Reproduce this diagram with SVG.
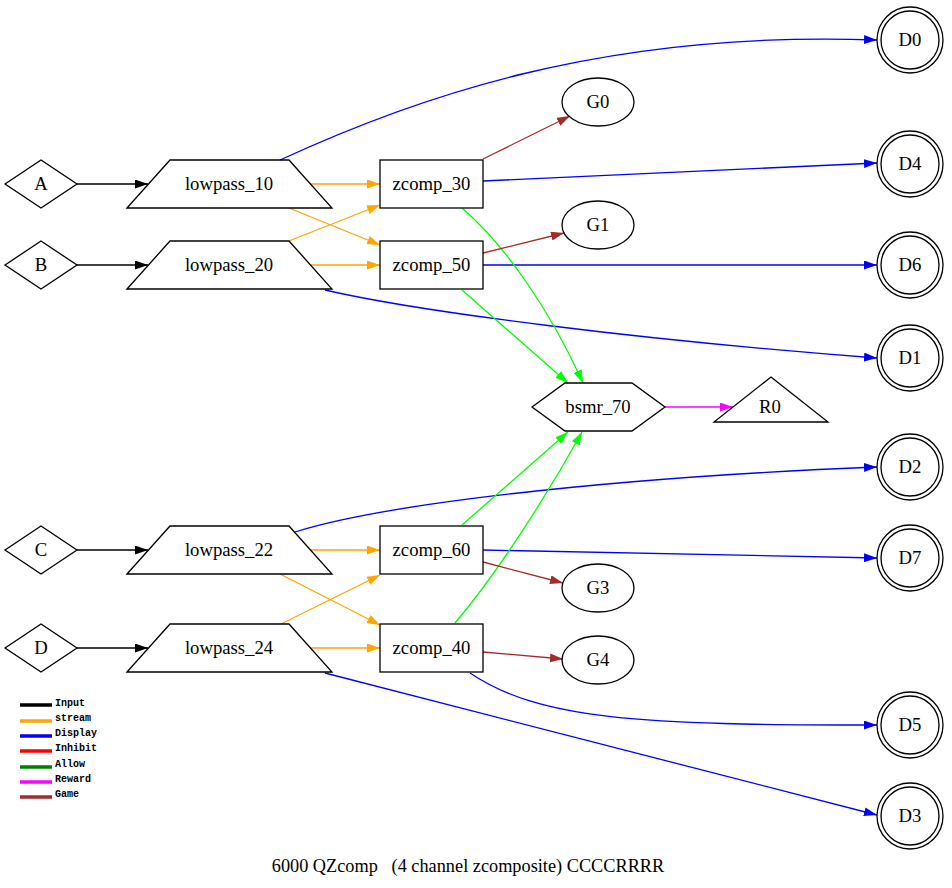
<svg xmlns="http://www.w3.org/2000/svg" width="952" height="888" viewBox="0 0 952 888">
<style>
.n{fill:none;stroke:#000;stroke-width:1.3}
.t{font-family:"Liberation Serif","Times New Roman",serif;font-size:18.7px;text-anchor:middle;fill:#000}
.e{fill:none;stroke-width:1.3}
.lg{font-family:"Liberation Mono","Courier New",monospace;font-size:10px;font-weight:bold;fill:#000}
.ll{stroke-width:3.5}
</style>
<defs>
<marker id="mk" viewBox="0 0 10 7" refX="10" refY="3.5" markerWidth="13" markerHeight="9" markerUnits="userSpaceOnUse" orient="auto" preserveAspectRatio="none"><path d="M0,0L10,3.5L0,7z" fill="#000"/></marker>
<marker id="mo" viewBox="0 0 10 7" refX="10" refY="3.5" markerWidth="13" markerHeight="9" markerUnits="userSpaceOnUse" orient="auto" preserveAspectRatio="none"><path d="M0,0L10,3.5L0,7z" fill="#ffa500"/></marker>
<marker id="mb" viewBox="0 0 10 7" refX="10" refY="3.5" markerWidth="13" markerHeight="9" markerUnits="userSpaceOnUse" orient="auto" preserveAspectRatio="none"><path d="M0,0L10,3.5L0,7z" fill="#0000ff"/></marker>
<marker id="mg" viewBox="0 0 10 7" refX="10" refY="3.5" markerWidth="13" markerHeight="9" markerUnits="userSpaceOnUse" orient="auto" preserveAspectRatio="none"><path d="M0,0L10,3.5L0,7z" fill="#00ff00"/></marker>
<marker id="mm" viewBox="0 0 10 7" refX="10" refY="3.5" markerWidth="13" markerHeight="9" markerUnits="userSpaceOnUse" orient="auto" preserveAspectRatio="none"><path d="M0,0L10,3.5L0,7z" fill="#ff00ff"/></marker>
<marker id="mr" viewBox="0 0 10 7" refX="10" refY="3.5" markerWidth="13" markerHeight="9" markerUnits="userSpaceOnUse" orient="auto" preserveAspectRatio="none"><path d="M0,0L10,3.5L0,7z" fill="#a52a2a"/></marker>
</defs>
<rect width="952" height="888" fill="#fff"/>

<g id="connectors">
<g stroke="#000" marker-end="url(#mk)">
<path class="e" d="M77,184L148,184"/>
<path class="e" d="M77,265L148,265"/>
<path class="e" d="M77,550L148,550"/>
<path class="e" d="M77,648L148,648"/>
</g>
<g stroke="#ffa500" marker-end="url(#mo)">
<path class="e" d="M310,184L380,184"/>
<path class="e" d="M289,208L380,245"/>
<path class="e" d="M289,241L380,205"/>
<path class="e" d="M310,265L380,265"/>
<path class="e" d="M310,550L380,550"/>
<path class="e" d="M280,574L380,625"/>
<path class="e" d="M281,624L380,575"/>
<path class="e" d="M310,648L380,648"/>
</g>
<g stroke="#0000ff" marker-end="url(#mb)">
<path class="e" d="M280,160C410,100 600,30 877,40"/>
<path class="e" d="M483,181L877,163"/>
<path class="e" d="M483,265L877,265"/>
<path class="e" d="M325,290C420,312 640,340 877,358"/>
<path class="e" d="M295,532C380,505 600,478 877,467"/>
<path class="e" d="M483,550L877,558"/>
<path class="e" d="M470,673C540,720 640,725 877,725"/>
<path class="e" d="M325,673L877,815"/>
</g>
<g stroke="#00ff00" marker-end="url(#mg)">
<path class="e" d="M462,208C505,245 550,310 583,383"/>
<path class="e" d="M462,290L568,383"/>
<path class="e" d="M462,525L568,432"/>
<path class="e" d="M455,623C500,570 550,490 582,432"/>
</g>
<g stroke="#ff00ff" marker-end="url(#mm)">
<path class="e" d="M665,407L733,407"/>
</g>
<g stroke="#a52a2a" marker-end="url(#mr)">
<path class="e" d="M483,159L570,116"/>
<path class="e" d="M483,253L564,233"/>
<path class="e" d="M483,562L563,583"/>
<path class="e" d="M483,652L563,659"/>
</g>
</g>

<g id="A"><polygon class="n" points="5,184 41,160 77,184 41,208"/><text class="t" x="41" y="190">A</text></g>
<g id="B"><polygon class="n" points="5,265 41,241 77,265 41,289"/><text class="t" x="41" y="271">B</text></g>
<g id="C"><polygon class="n" points="5,550 41,526 77,550 41,574"/><text class="t" x="41" y="556">C</text></g>
<g id="D"><polygon class="n" points="5,648 41,624 77,648 41,672"/><text class="t" x="41" y="654">D</text></g>

<g id="lowpass_10"><polygon class="n" points="127,208 170,160 289,160 332,208"/><text class="t" x="229" y="190">lowpass_10</text></g>
<g id="lowpass_20"><polygon class="n" points="127,289 170,241 289,241 332,289"/><text class="t" x="229" y="271">lowpass_20</text></g>
<g id="lowpass_22"><polygon class="n" points="127,574 170,526 289,526 332,574"/><text class="t" x="229" y="556">lowpass_22</text></g>
<g id="lowpass_24"><polygon class="n" points="127,672 170,624 289,624 332,672"/><text class="t" x="229" y="654">lowpass_24</text></g>

<g id="zcomp_30"><rect class="n" x="380" y="160" width="103" height="48"/><text class="t" x="431.5" y="190">zcomp_30</text></g>
<g id="zcomp_50"><rect class="n" x="380" y="241" width="103" height="48"/><text class="t" x="431.5" y="271">zcomp_50</text></g>
<g id="zcomp_60"><rect class="n" x="380" y="526" width="103" height="48"/><text class="t" x="431.5" y="556">zcomp_60</text></g>
<g id="zcomp_40"><rect class="n" x="380" y="624" width="103" height="48"/><text class="t" x="431.5" y="654">zcomp_40</text></g>

<g id="G0"><ellipse class="n" cx="598" cy="102" rx="36" ry="24"/><text class="t" x="598" y="108">G0</text></g>
<g id="G1"><ellipse class="n" cx="598" cy="225" rx="36" ry="24"/><text class="t" x="598" y="231">G1</text></g>
<g id="G3"><ellipse class="n" cx="598" cy="588" rx="36" ry="24"/><text class="t" x="598" y="594">G3</text></g>
<g id="G4"><ellipse class="n" cx="598" cy="660" rx="36" ry="24"/><text class="t" x="598" y="666">G4</text></g>

<g id="bsmr_70"><polygon class="n" points="532,407 565,383 632,383 665,407 632,431 565,431"/><text class="t" x="598" y="413">bsmr_70</text></g>
<g id="R0"><polygon class="n" points="771,377 828,422 714,422"/><text class="t" x="770" y="413">R0</text></g>

<g id="D0"><circle class="n" cx="910" cy="40" r="33"/><circle class="n" cx="910" cy="40" r="29"/><text class="t" x="910" y="46">D0</text></g>
<g id="D4"><circle class="n" cx="910" cy="164" r="33"/><circle class="n" cx="910" cy="164" r="29"/><text class="t" x="910" y="170">D4</text></g>
<g id="D6"><circle class="n" cx="910" cy="265" r="33"/><circle class="n" cx="910" cy="265" r="29"/><text class="t" x="910" y="271">D6</text></g>
<g id="D1"><circle class="n" cx="910" cy="358" r="33"/><circle class="n" cx="910" cy="358" r="29"/><text class="t" x="910" y="364">D1</text></g>
<g id="D2"><circle class="n" cx="910" cy="467" r="33"/><circle class="n" cx="910" cy="467" r="29"/><text class="t" x="910" y="473">D2</text></g>
<g id="D7"><circle class="n" cx="910" cy="558" r="33"/><circle class="n" cx="910" cy="558" r="29"/><text class="t" x="910" y="564">D7</text></g>
<g id="D5"><circle class="n" cx="910" cy="725" r="33"/><circle class="n" cx="910" cy="725" r="29"/><text class="t" x="910" y="731">D5</text></g>
<g id="D3"><circle class="n" cx="910" cy="816" r="33"/><circle class="n" cx="910" cy="816" r="29"/><text class="t" x="910" y="822">D3</text></g>

<g id="legend">
<line class="ll" x1="20" y1="705" x2="52" y2="705" stroke="#000"/><text class="lg" x="55" y="706">Input</text>
<line class="ll" x1="20" y1="721" x2="52" y2="721" stroke="#ffa500"/><text class="lg" x="55" y="721">stream</text>
<line class="ll" x1="20" y1="736" x2="52" y2="736" stroke="#0000ff"/><text class="lg" x="55" y="736">Display</text>
<line class="ll" x1="20" y1="751" x2="52" y2="751" stroke="#ff0000"/><text class="lg" x="55" y="751">Inhibit</text>
<line class="ll" x1="20" y1="767" x2="52" y2="767" stroke="#008000"/><text class="lg" x="55" y="767">Allow</text>
<line class="ll" x1="20" y1="782" x2="52" y2="782" stroke="#ff00ff"/><text class="lg" x="55" y="782">Reward</text>
<line class="ll" x1="20" y1="797" x2="52" y2="797" stroke="#a52a2a"/><text class="lg" x="55" y="797">Game</text>
</g>

<text class="t" x="468" y="872" xml:space="preserve" style="font-size:18.3px">6000 QZcomp   (4 channel zcomposite) CCCCRRRR</text>
</svg>
